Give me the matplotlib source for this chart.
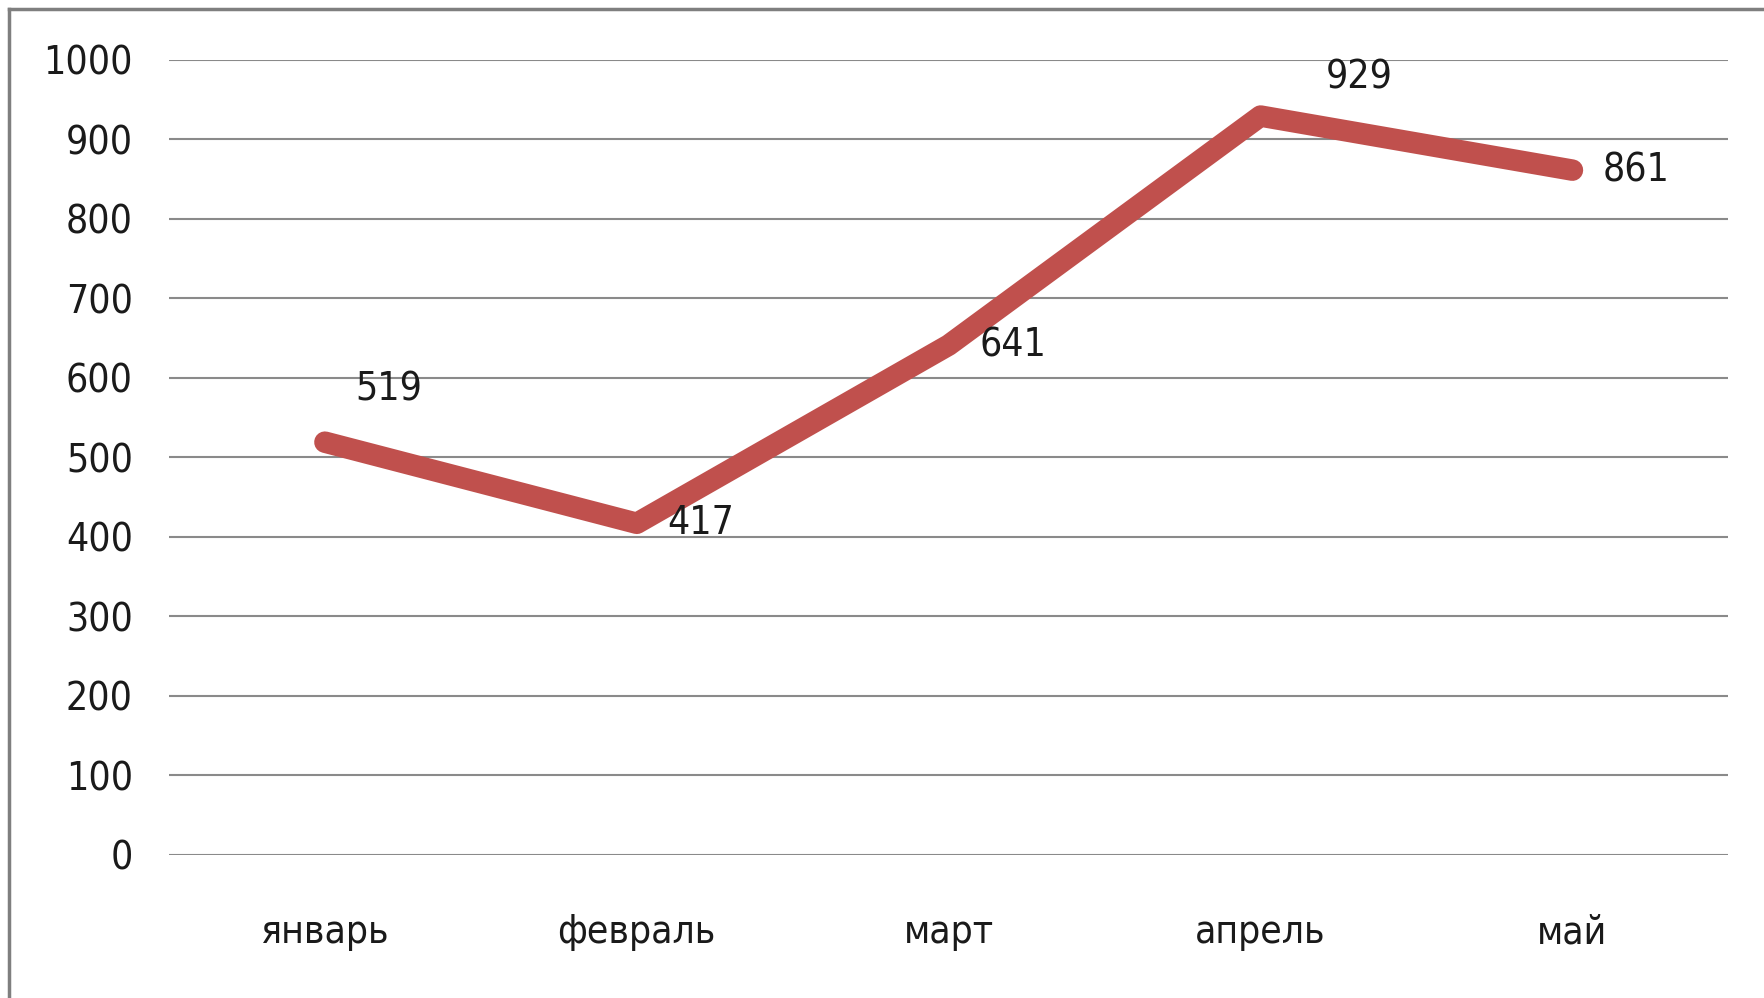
import matplotlib.pyplot as plt
from matplotlib.lines import Line2D

# data
months = ["январь", "февраль", "март", "апрель", "май"]
values = [519, 417, 641, 929, 861]
# label offsets in points (dx, dy)
label_offsets = [(22, 38), (22, 0), (22, 0), (47, 28), (22, 0)]

plt.rcParams['font.family'] = ['DejaVu Sans']
plt.rcParams['font.stretch'] = 'condensed'

fig = plt.figure(figsize=(17.64, 9.98), dpi=100)
ax = fig.add_axes([0.0958, 0.1433, 0.884, 0.797])

x = list(range(len(months)))
ax.plot(x, values, color='#C0504D', linewidth=15.5, solid_capstyle='round',
        solid_joinstyle='round', clip_on=False, zorder=3)

for xi, v, (dx, dy) in zip(x, values, label_offsets):
    ax.annotate(str(v), (xi, v), xytext=(dx, dy), textcoords='offset points',
                ha='left', va='center', fontsize=28, color='#1a1a1a')

ax.set_xlim(-0.5, len(months) - 0.5)
ax.set_ylim(0, 1000)
ax.set_yticks(range(0, 1001, 100))
ax.set_xticks(x)
ax.set_xticklabels(months)
ax.tick_params(axis='both', length=0, labelsize=28, colors='#1a1a1a')
ax.tick_params(axis='y', pad=26)
ax.tick_params(axis='x', pad=42)
ax.grid(axis='y', color='#8a8a8a', linewidth=1.5)
ax.set_axisbelow(True)
for s in ax.spines.values():
    s.set_visible(False)

# frame border (left and top only, chart area cropped)
fig.add_artist(Line2D([0.0051, 0.0051], [0, 0.991], transform=fig.transFigure,
                      color='#7f7f7f', linewidth=2.5))
fig.add_artist(Line2D([0.0051, 1], [0.991, 0.991], transform=fig.transFigure,
                      color='#7f7f7f', linewidth=2.5))

fig.savefig("out.png", dpi=100)
